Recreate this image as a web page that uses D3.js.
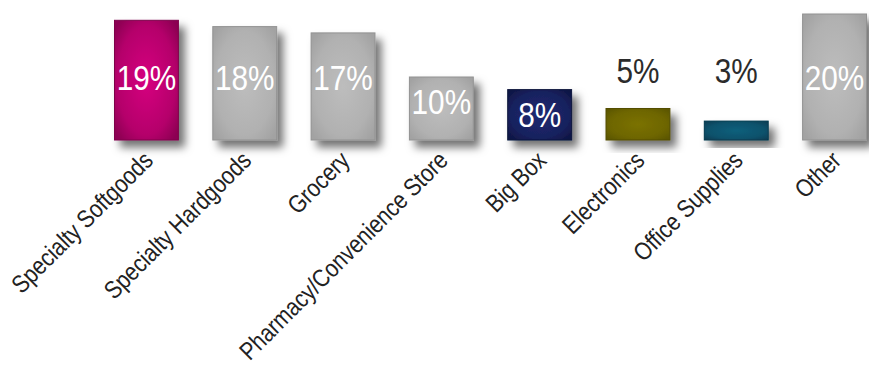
<!DOCTYPE html>
<html>
<head>
<meta charset="utf-8">
<script src="https://cdn.jsdelivr.net/npm/d3@7"></script>
<style>
  html, body { margin: 0; padding: 0; background: #fff; }
  svg { display: block; }
  text { font-family: "Liberation Sans", Arial, sans-serif; }
</style>
</head>
<body>
<svg id="chart" width="869" height="376"></svg>
<script>
// Share of sales by store type
const categories = ["Specialty Softgoods", "Specialty Hardgoods", "Grocery", "Pharmacy/Convenience Store", "Big Box", "Electronics", "Office Supplies", "Other"];
const values = [19, 18, 17, 10, 8, 5, 3, 20];
const colorsCenter = ["#d6007f", "#bdbdbd", "#bdbdbd", "#bdbdbd", "#1f2a72", "#7b7200", "#08607c", "#bdbdbd"];
const colorsEdge   = ["#8c0052", "#a2a2a2", "#a2a2a2", "#a2a2a2", "#0f1645", "#5c5600", "#083f56", "#a2a2a2"];

const svg = d3.select("#chart");
const defs = svg.append("defs");

// soft drop shadow under each bar
const shadow = defs.append("filter").attr("id", "shadow")
  .attr("x", "-30%").attr("y", "-30%").attr("width", "170%").attr("height", "170%");
shadow.append("feDropShadow")
  .attr("dx", 6).attr("dy", 7).attr("stdDeviation", 4)
  .attr("flood-color", "#000").attr("flood-opacity", 0.55);

// radial gradient per bar: brighter centre, darker rim
categories.forEach((c, i) => {
  const g = defs.append("radialGradient").attr("id", "grad" + i)
    .attr("cx", "50%").attr("cy", "50%").attr("r", "65%");
  g.append("stop").attr("offset", "0%").attr("stop-color", colorsCenter[i]);
  g.append("stop").attr("offset", "70%").attr("stop-color", d3.interpolateRgb(colorsCenter[i], colorsEdge[i])(0.45));
  g.append("stop").attr("offset", "100%").attr("stop-color", colorsEdge[i]);
});

const x = d3.scaleBand()
  .domain(categories)
  .range([114.5, 866.5])
  .paddingInner(0.35)
  .paddingOuter(0);

const y = d3.scaleLinear()
  .domain([0, 20])
  .range([140, 14]);

const data = categories.map((c, i) => ({ cat: c, value: values[i], i }));

// bars
svg.append("g").selectAll("rect")
  .data(data)
  .join("rect")
  .attr("x", d => x(d.cat))
  .attr("y", d => y(d.value))
  .attr("width", x.bandwidth())
  .attr("height", d => y(0) - y(d.value))
  .attr("fill", d => `url(#grad${d.i})`)
  .attr("stroke", d => d3.color(colorsEdge[d.i]).darker(0.3))
  .attr("stroke-width", 1)
  .attr("filter", "url(#shadow)");

// value labels: inside the bar in white, above short bars in dark grey
// (condensed look via horizontal squeeze)
svg.append("g").selectAll("text")
  .data(data)
  .join("text")
  .attr("transform", d => {
    const cx = x(d.cat) + x.bandwidth() / 2;
    const by = d.value < 6 ? 83 : Math.max(y(d.value) + 37, 90);
    return `translate(${cx},${by}) scale(0.85,1)`;
  })
  .attr("text-anchor", "middle")
  .attr("font-size", 35)
  .attr("fill", d => d.value < 6 ? "#2b2b2b" : "#ffffff")
  .text(d => d.value + "%");

// category axis labels, rotated
const axis = d3.axisBottom(x).tickSize(0).tickPadding(0);
const gx = svg.append("g").call(axis);
gx.select(".domain").remove();
gx.selectAll(".tick text")
  .attr("font-family", null)
  .attr("font-size", 25)
  .attr("fill", "#222")
  .attr("text-anchor", "end")
  .attr("dy", 0)
  .attr("y", 0)
  .attr("transform", "translate(8,162) rotate(-45) scale(0.85,1)");
</script>
</body>
</html>
